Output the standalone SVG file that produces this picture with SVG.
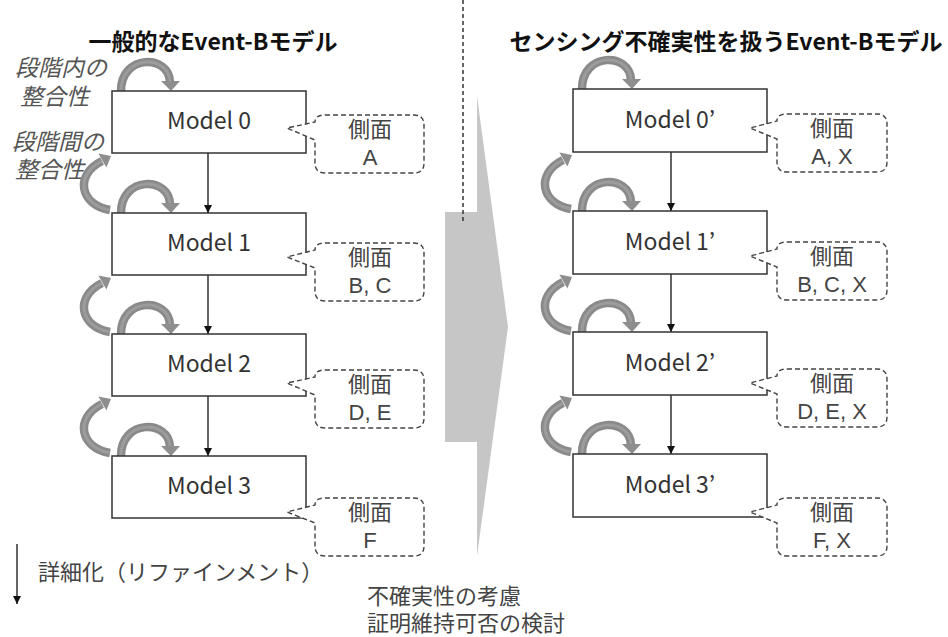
<svg xmlns="http://www.w3.org/2000/svg" width="948" height="637" viewBox="0 0 948 637">
<style>
text{font-family:"Noto Sans CJK JP","Noto Sans",sans-serif}
.title{font-size:23px;font-weight:bold;fill:#111;text-anchor:middle}
.box{fill:#fff;stroke:#333;stroke-width:1.5}
.mt{font-size:23px;fill:#333;text-anchor:middle}
.co{fill:#fff;stroke:#444;stroke-width:1.4;stroke-dasharray:5 3}
.ct{font-size:22px;fill:#444;text-anchor:middle}
.cl{font-family:"Liberation Sans",Arial,sans-serif}
.lab{font-size:23px;fill:#555;font-style:italic}
.conn{stroke:#111;stroke-width:1.3;fill:none}
.arc{fill:none;stroke:#8a8a8a;stroke-width:8.5}
.arci{fill:none;stroke:#9c9c9c;stroke-width:3}
.arch{fill:#8e8e8e}
.note{font-size:22px;fill:#444}
</style>
<defs>
<marker id="ah" viewBox="0 0 10 10" refX="10" refY="5" markerWidth="8" markerHeight="8" markerUnits="userSpaceOnUse" orient="auto"><path d="M0 0 L10 5 L0 10 Z" fill="#111"/></marker>
<g id="selfArc"><path class="arc" d="M9 0 C9 -37 57 -37 58 -9"/><path class="arci" d="M9 0 C9 -37 57 -37 58 -9"/><polygon class="arch" points="49,-10 68,-10 59,0"/></g>
<g id="betweenArc"><path class="arc" d="M-2 57 C-32 52 -38 22 -10 8"/><path class="arci" d="M-2 57 C-32 52 -38 22 -10 8"/><polygon class="arch" points="-1,3 -5.6,14.6 -13.6,0.4"/></g>
</defs>

<g id="bigArrow"><polygon points="445,212 477,212 477,96 508,327 477,556 477,442 445,442" fill="#c6c6c6"/></g>
<g id="divider"><line x1="463" y1="0" x2="463" y2="222" stroke="#333" stroke-width="1.5" stroke-dasharray="4 3"/></g>

<g id="titles">
<text class="title" x="213" y="50">一般的なEvent-Bモデル</text>
<text class="title" x="726" y="50">センシング不確実性を扱うEvent-Bモデル</text>
</g>

<g id="labels">
<text class="lab"><tspan x="15" y="76">段階内の</tspan><tspan x="20" y="105">整合性</tspan></text>
<text class="lab"><tspan x="12" y="150">段階間の</tspan><tspan x="15" y="178">整合性</tspan></text>
</g>

<g id="connectors">
<line class="conn" x1="208" y1="153" x2="208" y2="213" marker-end="url(#ah)"/>
<line class="conn" x1="208" y1="275" x2="208" y2="334" marker-end="url(#ah)"/>
<line class="conn" x1="208" y1="396" x2="208" y2="456" marker-end="url(#ah)"/>
<line class="conn" x1="671" y1="152" x2="671" y2="211" marker-end="url(#ah)"/>
<line class="conn" x1="671" y1="274" x2="671" y2="332" marker-end="url(#ah)"/>
<line class="conn" x1="671" y1="395" x2="671" y2="454" marker-end="url(#ah)"/>
<line class="conn" x1="17" y1="544" x2="17" y2="604" marker-end="url(#ah)"/>
</g>

<g id="consistency-arcs">
<use href="#selfArc" x="112" y="91"/>
<use href="#selfArc" x="112" y="213"/>
<use href="#selfArc" x="112" y="334"/>
<use href="#selfArc" x="112" y="456"/>
<use href="#betweenArc" x="112" y="153"/>
<use href="#betweenArc" x="112" y="275"/>
<use href="#betweenArc" x="112" y="396"/>
<use href="#selfArc" x="573" y="89"/>
<use href="#selfArc" x="573" y="211"/>
<use href="#selfArc" x="573" y="332"/>
<use href="#selfArc" x="573" y="454"/>
<use href="#betweenArc" x="573" y="152"/>
<use href="#betweenArc" x="573" y="274"/>
<use href="#betweenArc" x="573" y="395"/>
</g>

<g id="model0"><rect class="box" x="112" y="91" width="194" height="62"/><text class="mt" x="209" y="129">Model 0</text></g>
<g id="model1"><rect class="box" x="112" y="213" width="194" height="62"/><text class="mt" x="209" y="251">Model 1</text></g>
<g id="model2"><rect class="box" x="112" y="334" width="194" height="62"/><text class="mt" x="209" y="372">Model 2</text></g>
<g id="model3"><rect class="box" x="112" y="456" width="194" height="62"/><text class="mt" x="209" y="494">Model 3</text></g>

<g id="model0p"><rect class="box" x="573" y="89" width="194" height="63"/><text class="mt" x="670" y="128">Model 0’</text></g>
<g id="model1p"><rect class="box" x="573" y="211" width="194" height="63"/><text class="mt" x="670" y="250">Model 1’</text></g>
<g id="model2p"><rect class="box" x="573" y="332" width="194" height="63"/><text class="mt" x="670" y="371">Model 2’</text></g>
<g id="model3p"><rect class="box" x="573" y="454" width="194" height="63"/><text class="mt" x="670" y="493">Model 3’</text></g>

<g id="aspect0"><path class="co" d="M325 115 H414 Q424 115 424 125 V163 Q424 173 414 173 H325 Q315 173 315 163 V140 L287 128 L315 122 Q315 115 325 115 Z"/><text class="ct" x="370" y="137">側面</text><text class="ct cl" x="370" y="165">A</text></g>
<g id="aspect1"><path class="co" d="M325 243 H414 Q424 243 424 253 V291 Q424 301 414 301 H325 Q315 301 315 291 V268 L287 257 L315 250 Q315 243 325 243 Z"/><text class="ct" x="370" y="265">側面</text><text class="ct cl" x="370" y="293">B, C</text></g>
<g id="aspect2"><path class="co" d="M325 370 H414 Q424 370 424 380 V418 Q424 428 414 428 H325 Q315 428 315 418 V395 L287 383 L315 377 Q315 370 325 370 Z"/><text class="ct" x="370" y="392">側面</text><text class="ct cl" x="370" y="420">D, E</text></g>
<g id="aspect3"><path class="co" d="M325 498 H414 Q424 498 424 508 V546 Q424 556 414 556 H325 Q315 556 315 546 V523 L287 512 L315 505 Q315 498 325 498 Z"/><text class="ct" x="370" y="520">側面</text><text class="ct cl" x="370" y="548">F</text></g>

<g id="aspect0p"><path class="co" d="M787 114 H877 Q887 114 887 124 V162 Q887 172 877 172 H787 Q777 172 777 162 V139 L750 128 L777 121 Q777 114 787 114 Z"/><text class="ct" x="832" y="136">側面</text><text class="ct cl" x="832" y="164">A, X</text></g>
<g id="aspect1p"><path class="co" d="M787 242 H877 Q887 242 887 252 V290 Q887 300 877 300 H787 Q777 300 777 290 V267 L750 256 L777 249 Q777 242 787 242 Z"/><text class="ct" x="832" y="264">側面</text><text class="ct cl" x="832" y="292">B, C, X</text></g>
<g id="aspect2p"><path class="co" d="M787 369 H877 Q887 369 887 379 V417 Q887 427 877 427 H787 Q777 427 777 417 V394 L750 383 L777 376 Q777 369 787 369 Z"/><text class="ct" x="832" y="391">側面</text><text class="ct cl" x="832" y="419">D, E, X</text></g>
<g id="aspect3p"><path class="co" d="M787 498 H877 Q887 498 887 508 V546 Q887 556 877 556 H787 Q777 556 777 546 V523 L750 512 L777 505 Q777 498 787 498 Z"/><text class="ct" x="832" y="520">側面</text><text class="ct cl" x="832" y="548">F, X</text></g>

<g id="notes">
<text class="note" x="38" y="580">詳細化（リファインメント）</text>
<text class="note"><tspan x="367" y="604">不確実性の考慮</tspan><tspan x="367" y="631">証明維持可否の検討</tspan></text>
</g>
</svg>
